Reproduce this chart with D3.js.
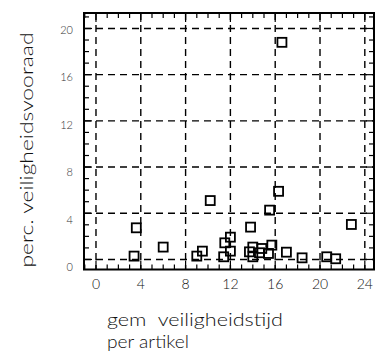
<!DOCTYPE html>
<html><head><meta charset="utf-8">
<script src="https://cdn.jsdelivr.net/npm/d3@7"></script>
<style>body{margin:0;background:#fff}svg{display:block}</style>
</head><body>
<svg id="c" width="375" height="357"></svg>
<script>
const xTicks = [0, 4, 8, 12, 16, 20, 24];
const yTicks = [0, 4, 8, 12, 16, 20];
const xValues = [3.6, 3.4, 6.0, 10.2, 9.0, 9.5, 11.4, 11.5, 12.0, 12.0, 13.8, 13.7, 14.0, 14.0, 14.8, 14.6, 15.4, 15.7, 15.5, 16.3, 17.0, 18.4, 20.6, 21.4, 22.8, 16.6];
const yValues = [2.74, 0.29, 1.07, 5.1, 0.29, 0.72, 0.23, 1.44, 1.93, 0.72, 2.8, 0.66, 1.07, 0.23, 0.95, 0.58, 0.52, 1.24, 4.27, 5.9, 0.63, 0.14, 0.23, 0.06, 3.03, 18.8];
const xTitle = ["gem  veiligheidstijd", "per artikel"];
const yTitle = "perc. veiligheidsvooraad";

const svg = d3.select("#c");
const L = 84, R = 374, T = 13, B = 269.5;
const x = d3.scaleLinear().domain([-1.07, 24.82]).range([L, R]);
const y = d3.scaleLinear().domain([-0.87, 21.34]).range([B, T]);
// tick labels on the left axis are printed slightly stretched relative to the grid
const yLab = d3.scaleLinear().domain([0, 20]).range([271, 34]);
const font = "Lato, 'Liberation Sans', Arial, sans-serif";

// grid
const g = svg.append("g").attr("stroke", "#000").attr("stroke-width", 1.4).attr("stroke-dasharray", "7,5");
g.selectAll(".vx").data(xTicks).enter().append("line")
  .attr("x1", d => x(d)).attr("x2", d => x(d)).attr("y1", T).attr("y2", B);
g.selectAll(".hy").data(yTicks).enter().append("line")
  .attr("y1", d => y(d)).attr("y2", d => y(d)).attr("x1", L).attr("x2", R);

// minor ticks
const xm = d3.range(-1, 25), ym = d3.range(0, 22);
const tk = svg.append("g").attr("stroke", "#000").attr("stroke-width", 1.2);
tk.selectAll(".tb").data(xm).enter().append("line")
  .attr("x1", d => x(d)).attr("x2", d => x(d)).attr("y1", B).attr("y2", d => B - (d % 4 === 0 ? 9 : 5));
tk.selectAll(".tt").data(xm).enter().append("line")
  .attr("x1", d => x(d)).attr("x2", d => x(d)).attr("y1", T).attr("y2", d => T + (d % 4 === 0 ? 9 : 5));
tk.selectAll(".tl").data(ym).enter().append("line")
  .attr("y1", d => y(d)).attr("y2", d => y(d)).attr("x1", L).attr("x2", d => L + (d % 4 === 0 ? 8 : 5));
tk.selectAll(".tr").data(ym).enter().append("line")
  .attr("y1", d => y(d)).attr("y2", d => y(d)).attr("x1", R).attr("x2", d => R - (d % 4 === 0 ? 8 : 5));

// frame
svg.append("rect").attr("x", L).attr("y", T).attr("width", R - L).attr("height", B - T)
  .attr("fill", "none").attr("stroke", "#000").attr("stroke-width", 2);

// tick labels
svg.selectAll(".xl").data(xTicks).enter().append("text")
  .attr("x", d => x(d)).attr("y", 288.5).attr("text-anchor", "middle")
  .attr("font-family", font).attr("font-weight", 300).attr("font-size", 14).attr("fill", "#111").text(d => d);
svg.selectAll(".yl").data(yTicks).enter().append("text")
  .attr("x", 73).attr("y", d => yLab(d)).attr("text-anchor", "end")
  .attr("font-family", font).attr("font-weight", 300).attr("font-size", 11).attr("fill", "#333").text(d => d);

// points
const pts = xValues.map((v, i) => ({x: v, y: yValues[i]}));
svg.selectAll(".p").data(pts).enter().append("rect")
  .attr("x", d => x(d.x) - 4.5).attr("y", d => y(d.y) - 4.5).attr("width", 9).attr("height", 9)
  .attr("fill", "none").attr("stroke", "#000").attr("stroke-width", 1.8);

// titles
svg.append("text").attr("transform", "translate(33,150) rotate(-90)")
  .attr("text-anchor", "middle").attr("font-family", font).attr("font-weight", 300).attr("font-size", 17).attr("fill", "#111")
  .attr("textLength", 235).attr("lengthAdjust", "spacingAndGlyphs").text(yTitle);
svg.append("text").attr("x", 107).attr("y", 326).attr("font-family", font).attr("font-weight", 300).attr("font-size", 17)
  .attr("fill", "#111").attr("xml:space", "preserve").style("white-space", "pre")
  .attr("textLength", 176).attr("lengthAdjust", "spacingAndGlyphs").text(xTitle[0]);
svg.append("text").attr("x", 107).attr("y", 348).attr("font-family", font).attr("font-weight", 300).attr("font-size", 17)
  .attr("fill", "#111").attr("textLength", 82).attr("lengthAdjust", "spacingAndGlyphs").text(xTitle[1]);
</script>
</body></html>
